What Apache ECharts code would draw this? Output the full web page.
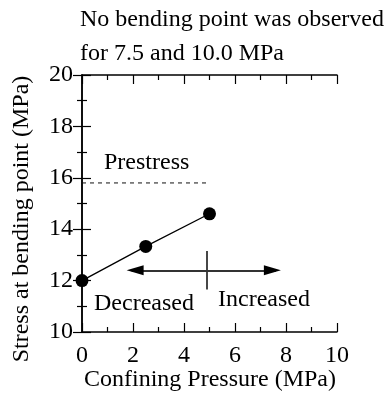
<!DOCTYPE html>
<html>
<head>
<meta charset="utf-8">
<script src="https://cdn.jsdelivr.net/npm/echarts@6/dist/echarts.min.js"></script>
<style>
  html, body { margin: 0; padding: 0; background: #fff; }
  #chart { width: 390px; height: 401px; }
</style>
</head>
<body>
<div id="chart"></div>
<script>
// measured values
const pressure = [0, 2.5, 5];
const bendingStress = [12.0, 13.33, 14.6];
const prestressLevel = 15.8;
const prestressSpan = [0, 5];
const arrowLevel = 12.4;
const arrowSpan = [1.75, 7.8];
const dividerX = 4.88;
const dividerSpan = [11.65, 13.15];

const xRange = [0, 10];
const yRange = [10, 20];
const tickStep = 2;

const font = "Liberation Serif";
const ink = "#000";
const headSize = [10, 17];

const chart = echarts.init(document.getElementById("chart"), null, { renderer: "canvas" });

const frameAxis = {
  axisLine: { show: true, lineStyle: { color: ink, width: 1.5 } },
  axisTick: { show: true, inside: true, length: 9, lineStyle: { color: ink, width: 1.2 } },
  minorTick: { show: true, splitNumber: 2, length: 5, lineStyle: { color: ink, width: 1.2 } },
  splitLine: { show: false },
  axisLabel: { color: ink, fontFamily: font, fontSize: 24 },
};

const textStyle = (text, extra) => ({ text, font: `24px "${font}"`, fill: ink, ...extra });

// arrow heads: triangle tip sits on the coord, offset moves the body back along the line
const arrowHead = (x, dir) => ({
  coord: [x, arrowLevel],
  symbol: "triangle",
  symbolSize: headSize,
  symbolRotate: dir > 0 ? -90 : 90,
  symbolOffset: [-dir * headSize[1] / 2, 0],
});

const option = {
  animation: false,
  grid: { left: 82, top: 75, width: 255, height: 257, containLabel: false },
  xAxis: [
    {
      type: "value", min: xRange[0], max: xRange[1], interval: tickStep, position: "bottom",
      ...frameAxis,
      axisLabel: { ...frameAxis.axisLabel, margin: 12 },
    },
    {
      type: "value", min: xRange[0], max: xRange[1], interval: tickStep, position: "top",
      ...frameAxis,
      axisLabel: { show: false },
    },
  ],
  yAxis: [
    {
      type: "value", min: yRange[0], max: yRange[1], interval: tickStep, position: "left",
      ...frameAxis,
      axisLabel: { ...frameAxis.axisLabel, margin: 9 },
    },
    {
      type: "value", min: yRange[0], max: yRange[1], interval: tickStep, position: "right",
      ...frameAxis,
      axisLabel: { show: false },
    },
  ],
  series: [
    {
      type: "line",
      data: pressure.map((p, i) => [p, bendingStress[i]]),
      symbol: "circle",
      symbolSize: 13,
      itemStyle: { color: ink },
      lineStyle: { color: ink, width: 1.3 },
      z: 5,
    },
    {
      type: "line",
      data: prestressSpan.map((p) => [p, prestressLevel]),
      symbol: "none",
      lineStyle: { color: "#111", width: 1, type: [4, 4] },
    },
    {
      type: "line",
      data: [],
      markLine: {
        silent: true,
        animation: false,
        symbol: "none",
        label: { show: false },
        lineStyle: { color: "#333", width: 1.8, type: "solid" },
        data: [
          [{ coord: [arrowSpan[0] + 0.2, arrowLevel] }, { coord: [arrowSpan[1] - 0.2, arrowLevel] }],
          [{ coord: [dividerX, dividerSpan[0]] }, { coord: [dividerX, dividerSpan[1]] }],
        ],
      },
      markPoint: {
        silent: true,
        animation: false,
        label: { show: false },
        itemStyle: { color: ink },
        data: [arrowHead(arrowSpan[0], -1), arrowHead(arrowSpan[1], 1)],
      },
    },
  ],
  graphic: [
    { type: "text", left: 80, top: 8, style: textStyle("No bending point was observed") },
    { type: "text", left: 80, top: 42, style: textStyle("for 7.5 and 10.0 MPa") },
    { type: "text", left: 104, top: 151, style: textStyle("Prestress") },
    { type: "text", left: 94, top: 292, style: textStyle("Decreased") },
    { type: "text", left: 218, top: 288, style: textStyle("Increased") },
    {
      type: "text", x: 210, y: 380,
      style: textStyle("Confining Pressure (MPa)", { align: "center", verticalAlign: "middle" }),
    },
    {
      type: "text", x: 22, y: 219, rotation: Math.PI / 2,
      style: textStyle("Stress at bending point (MPa)", { align: "center", verticalAlign: "middle" }),
    },
  ],
};

chart.setOption(option);
</script>
</body>
</html>
